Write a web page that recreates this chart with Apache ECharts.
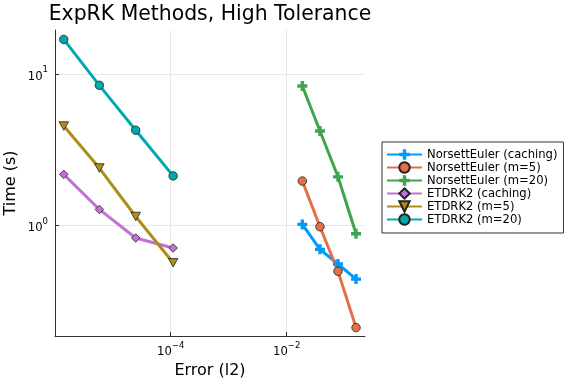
<!DOCTYPE html>
<html><head><meta charset="utf-8">
<script src="https://cdn.jsdelivr.net/npm/echarts@6/dist/echarts.min.js"></script>
<style>html,body{margin:0;padding:0;background:#fff}#c{width:576px;height:384px}</style>
</head><body><div id="c"></div>
<script>
const titleText = 'ExpRK Methods, High Tolerance';
const xAxisName = 'Error (l2)';
const yAxisName = 'Time (s)';
const seriesNames = ['NorsettEuler (caching)', 'NorsettEuler (m=5)', 'NorsettEuler (m=20)',
  'ETDRK2 (caching)', 'ETDRK2 (m=5)', 'ETDRK2 (m=20)'];
const errNorsett = [0.0186, 0.0375, 0.0766, 0.157];
const errETDRK = [1.43e-6, 5.88e-6, 2.49e-5, 1.10e-4];
const timeNorsettCaching = [1.02, 0.699, 0.559, 0.445];
const timeNorsettM5 = [1.97, 0.985, 0.501, 0.213];
const timeNorsettM20 = [8.34, 4.21, 2.10, 0.885];
const timeETDRKCaching = [2.18, 1.28, 0.83, 0.713];
const timeETDRKM5 = [4.54, 2.40, 1.15, 0.570];
const timeETDRKM20 = [16.9, 8.42, 4.26, 2.13];
const xTickValues = [1e-4, 1e-2];
const yTickValues = [1, 10];

const colors = ['#009AFA', '#E36F47', '#3EA44E', '#C371D2', '#AC8E18', '#00A9AD'];
const plusPath = 'path://M-1,-3H1V-1H3V1H1V3H-1V1H-3V-1H-1Z';
const dtriPath = 'path://M0,0L2,0L1,1.8Z';
const symbols = [plusPath, 'circle', plusPath, 'diamond', dtriPath, 'circle'];
const symSizes = [10, 8.5, 10, 8.5, 9.5, 8.5];
const xs = [errNorsett, errNorsett, errNorsett, errETDRK, errETDRK, errETDRK];
const ys = [timeNorsettCaching, timeNorsettM5, timeNorsettM20, timeETDRKCaching, timeETDRKM5, timeETDRKM20];
const FONT = 'DejaVu Sans';

function tickFmt(list) {
  return function (v) {
    for (const t of list) {
      if (Math.abs(v - t) / t < 1e-6) {
        const e = Math.round(Math.log10(t));
        return '{b|10}{s|' + (e < 0 ? '\u2212' + (-e) : e) + '}';
      }
    }
    return '';
  };
}
const rich = {
  b: {fontSize: 11.6, fontFamily: FONT, color: '#000', verticalAlign: 'bottom', lineHeight: 17},
  s: {fontSize: 8.5, fontFamily: FONT, color: '#000', verticalAlign: 'top', lineHeight: 17}
};

const series = seriesNames.map((n, i) => ({
  name: n, type: 'line',
  data: xs[i].map((x, j) => [x, ys[i][j]]),
  symbol: symbols[i], symbolSize: symSizes[i], symbolKeepAspect: true,
  showAllSymbol: true,
  lineStyle: {width: 3, color: colors[i]},
  itemStyle: {color: colors[i], borderColor: (symbols[i] === plusPath) ? colors[i] : '#222', borderWidth: (symbols[i] === plusPath) ? 0 : 0.8},
  emphasis: {disabled: true},
  animation: false
}));

const chart = echarts.init(document.getElementById('c'), null, {renderer: 'canvas'});
chart.setOption({
  backgroundColor: '#fff',
  animation: false,
  title: {text: titleText, left: 205, textAlign: 'center', top: 0,
    textStyle: {fontFamily: FONT, fontSize: 20.4, fontWeight: 'normal', color: '#000'}},
  grid: {left: 55, top: 30, right: 211, bottom: 48, containLabel: false, outerBoundsMode: 'none'},
  legend: {
    orient: 'vertical', left: 382, top: 142,
    itemWidth: 35, itemHeight: 13, itemGap: 0,
    padding: [6, 6, 7, 4],
    borderColor: '#333', borderWidth: 1, backgroundColor: '#fff',
    textStyle: {fontFamily: FONT, fontSize: 11.6, color: '#000', lineHeight: 13},
    data: seriesNames
  },
  xAxis: {
    type: 'log', logBase: 100, min: 1.01e-6, max: 0.224,
    name: xAxisName, nameLocation: 'middle', nameGap: 26,
    nameTextStyle: {fontFamily: FONT, fontSize: 16, color: '#000'},
    axisLine: {show: true, lineStyle: {color: '#333', width: 1}},
    axisTick: {show: true, inside: true, length: 4, lineStyle: {color: '#333'}},
    axisLabel: {formatter: tickFmt(xTickValues), rich: rich, margin: 5, showMinLabel: false, showMaxLabel: false},
    splitLine: {show: true, showMinLine: false, showMaxLine: false, lineStyle: {color: '#e8e8e8', width: 1}},
    minorTick: {show: false}
  },
  yAxis: {
    type: 'log', logBase: 10, min: 0.1875, max: 19.5,
    name: yAxisName, nameLocation: 'middle', nameGap: 36, nameRotate: 90, nameMoveOverlap: false,
    nameTextStyle: {fontFamily: FONT, fontSize: 16, color: '#000'},
    axisLine: {show: true, lineStyle: {color: '#333', width: 1}},
    axisTick: {show: true, inside: true, length: 4, lineStyle: {color: '#333'}},
    axisLabel: {formatter: tickFmt(yTickValues), rich: rich, margin: 7, showMinLabel: false, showMaxLabel: false},
    splitLine: {show: true, showMinLine: false, showMaxLine: false, lineStyle: {color: '#e8e8e8', width: 1}}
  },
  series: series
});
</script></body></html>
